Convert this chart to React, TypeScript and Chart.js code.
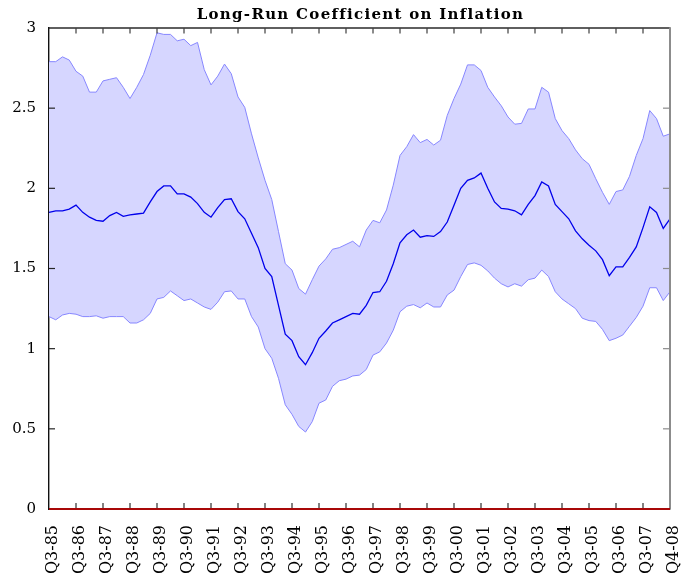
import React, { useEffect, useRef } from "react";
import { Chart, registerables } from "chart.js";

Chart.register(...registerables);

const tickLabels = [
  "Q3-85", "Q3-86", "Q3-87", "Q3-88", "Q3-89", "Q3-90", "Q3-91", "Q3-92",
  "Q3-93", "Q3-94", "Q3-95", "Q3-96", "Q3-97", "Q3-98", "Q3-99", "Q3-00",
  "Q3-01", "Q3-02", "Q3-03", "Q3-04", "Q3-05", "Q3-06", "Q3-07", "Q4-08",
];

const upperBand = [
  2.79, 2.79, 2.82, 2.80, 2.73, 2.70, 2.60, 2.60, 2.67, 2.68, 2.69, 2.63, 2.56, 2.63, 2.71, 2.83, 2.97, 2.96, 2.96, 2.92, 2.93, 2.89, 2.91,
  2.74, 2.645, 2.70, 2.775, 2.715, 2.57, 2.505, 2.34, 2.19, 2.05, 1.93, 1.73, 1.53, 1.49, 1.375, 1.34, 1.43, 1.515, 1.56, 1.62, 1.63,
  1.65, 1.67, 1.635, 1.74, 1.80, 1.785, 1.865, 2.02, 2.205, 2.26, 2.335, 2.285, 2.305, 2.27, 2.30, 2.455, 2.56, 2.65, 2.77, 2.77, 2.735, 2.63, 2.57, 2.515, 2.445, 2.40,
  2.405, 2.495, 2.495, 2.63, 2.60, 2.435, 2.36, 2.31, 2.24, 2.185, 2.15, 2.06, 1.975, 1.90, 1.98, 1.99, 2.075, 2.205, 2.31, 2.485, 2.435, 2.325, 2.34,
];

const coefficient = [
  1.85, 1.86, 1.86, 1.87, 1.895, 1.85, 1.82, 1.80, 1.795, 1.83, 1.85, 1.825, 1.835, 1.84, 1.845, 1.915, 1.98, 2.015, 2.015, 1.965, 1.965, 1.945, 1.905,
  1.85, 1.82, 1.88, 1.93, 1.935, 1.855, 1.81, 1.72, 1.63, 1.50, 1.45, 1.27, 1.09, 1.05, 0.95, 0.90, 0.975, 1.065, 1.11, 1.16, 1.18,
  1.20, 1.22, 1.215, 1.27, 1.35, 1.355, 1.42, 1.53, 1.66, 1.71, 1.74, 1.695, 1.705, 1.70, 1.73, 1.79, 1.895, 2.00, 2.05, 2.065, 2.095, 2.00, 1.915, 1.875, 1.87, 1.86,
  1.835, 1.90, 1.955, 2.04, 2.015, 1.90, 1.855, 1.81, 1.735, 1.685, 1.645, 1.61, 1.555, 1.455, 1.51, 1.51, 1.57, 1.635, 1.755, 1.885, 1.85, 1.75, 1.81,
];

const lowerBand = [
  1.20, 1.18, 1.21, 1.22, 1.215, 1.20, 1.20, 1.205, 1.19, 1.20, 1.20, 1.20, 1.16, 1.16, 1.18, 1.22, 1.31, 1.32, 1.36, 1.33, 1.30, 1.31, 1.285,
  1.26, 1.245, 1.29, 1.355, 1.36, 1.31, 1.31, 1.20, 1.135, 1.00, 0.94, 0.815, 0.65, 0.59, 0.515, 0.48, 0.545, 0.66, 0.68, 0.765, 0.80,
  0.81, 0.83, 0.835, 0.87, 0.96, 0.98, 1.035, 1.115, 1.23, 1.265, 1.275, 1.255, 1.285, 1.26, 1.26, 1.335, 1.365, 1.45, 1.525, 1.535, 1.52, 1.485, 1.44, 1.405, 1.385, 1.405,
  1.39, 1.43, 1.44, 1.49, 1.45, 1.355, 1.31, 1.28, 1.25, 1.19, 1.175, 1.17, 1.12, 1.05, 1.065, 1.085, 1.14, 1.195, 1.265, 1.38, 1.38, 1.30, 1.355,
];

const yTickValues = [0, 0.5, 1, 1.5, 2, 2.5, 3];
const Y_MIN = 0;
const Y_MAX = 3;
const titleText = "Long-Run Coefficient on Inflation";
const LABEL_EVERY = 4;

const categories = coefficient.map((_, i) =>
  i % LABEL_EVERY === 0 ? tickLabels[i / LABEL_EVERY] ?? "" : ""
);

const overlayPlugin = {
  id: "overlayPlugin",
  afterDraw(chart: any) {
    const ctx: CanvasRenderingContext2D = chart.ctx;
    const xs = chart.scales.x;
    const ys = chart.scales.y;
    // frame coordinates taken from the scales themselves
    const left = Number(xs.getPixelForValue(0));
    const right = Number(xs.getPixelForValue(categories.length - 1));
    const top = Number(ys.getPixelForValue(Y_MAX));
    const bottom = Number(ys.getPixelForValue(Y_MIN));
    ctx.save();
    ctx.setLineDash([]);

    // top border
    ctx.fillStyle = "#1c1c1c";
    ctx.fillRect(left - 0.7, top - 0.7, right - left + 1, 1.4);

    // right border (gray)
    ctx.fillStyle = "#8c8c8c";
    ctx.fillRect(right - 1, top - 0.7, 2, bottom - top + 1);

    // x ticks, inward from top and bottom
    for (let i = LABEL_EVERY; i < categories.length - 1; i += LABEL_EVERY) {
      const x = Number(xs.getPixelForValue(i));
      ctx.fillStyle = "#404040";
      ctx.fillRect(x - 0.6, top, 1.2, 5.5);
      ctx.fillStyle = "#303030";
      ctx.fillRect(x - 0.6, bottom - 6, 1.2, 6);
    }
    // y ticks, inward from left and right
    for (const v of yTickValues) {
      if (v === Y_MIN || v === Y_MAX) continue;
      const y = Number(ys.getPixelForValue(v));
      ctx.fillStyle = "#262626";
      ctx.fillRect(left, y - 0.6, 6, 1.2);
      ctx.fillStyle = "#8c8c8c";
      ctx.fillRect(right - 7, y - 0.6, 6, 1.2);
    }

    // red zero line
    ctx.fillStyle = "#a80808";
    ctx.fillRect(left, bottom - 1, right - left, 2);

    // title
    ctx.font = 'bold 15px "DejaVu Serif"';
    (ctx as any).letterSpacing = "1.3px";
    ctx.fillStyle = "#000";
    ctx.textAlign = "center";
    ctx.textBaseline = "alphabetic";
    ctx.fillText(titleText, (left + right) / 2 + 1, 19);
    ctx.restore();
  },
};

export default function App() {
  const canvasRef = useRef<HTMLCanvasElement | null>(null);

  useEffect(() => {
    if (!canvasRef.current) return;
    const chart = new Chart(canvasRef.current, {
      type: "line",
      data: {
        labels: categories,
        datasets: [
          {
            label: "upper",
            data: upperBand,
            borderColor: "rgb(135,135,255)",
            borderWidth: 1,
            backgroundColor: "rgb(214,214,255)",
            fill: "+1",
            pointRadius: 0,
            tension: 0,
            order: 3,
          },
          {
            label: "lower",
            data: lowerBand,
            borderColor: "rgb(135,135,255)",
            borderWidth: 1,
            fill: false,
            pointRadius: 0,
            tension: 0,
            order: 2,
          },
          {
            label: "coefficient",
            data: coefficient,
            borderColor: "rgb(0,0,235)",
            borderWidth: 1.3,
            fill: false,
            pointRadius: 0,
            tension: 0,
            order: 1,
          },
        ],
      },
      options: {
        animation: false,
        responsive: true,
        maintainAspectRatio: false,
        devicePixelRatio: 1,
        layout: { padding: { left: 0, right: 13, top: 28, bottom: 0 } },
        plugins: {
          legend: { display: false },
          title: { display: false },
          tooltip: { enabled: false },
          filler: { drawTime: "beforeDatasetsDraw" },
        } as any,
        scales: {
          x: {
            type: "category",
            position: "bottom",
            offset: false,
            grid: { display: false, drawTicks: false },
            border: { display: true, color: "#111111", width: 1.3 },
            ticks: {
              autoSkip: false,
              maxRotation: 90,
              minRotation: 90,
              padding: 16,
              labelOffset: 4,
              color: "#000",
              font: { family: '"DejaVu Serif"', size: 16 },
            },
            afterFit: (scale: any) => {
              scale.height = 74;
              scale.paddingLeft = 0;
              scale.paddingRight = 0;
            },
          },
          y: {
            position: "left",
            min: Y_MIN,
            max: Y_MAX,
            grid: { display: false, drawTicks: false },
            border: { display: true, color: "#111111", width: 1.4 },
            ticks: {
              stepSize: 0.5,
              padding: 13,
              color: "#000",
              font: { family: '"DejaVu Serif"', size: 15 },
              callback: (v: any) => String(v),
            },
            afterFit: (scale: any) => {
              scale.width = 49;
              scale.paddingTop = 0;
              scale.paddingBottom = 0;
            },
          },
        },
      } as any,
      plugins: [overlayPlugin],
    });
    return () => chart.destroy();
  }, []);

  return (
    <div
      style={{
        position: "fixed",
        left: 0,
        top: 0,
        width: 683,
        height: 583,
        background: "#fff",
      }}
    >
      <canvas ref={canvasRef} />
    </div>
  );
}
